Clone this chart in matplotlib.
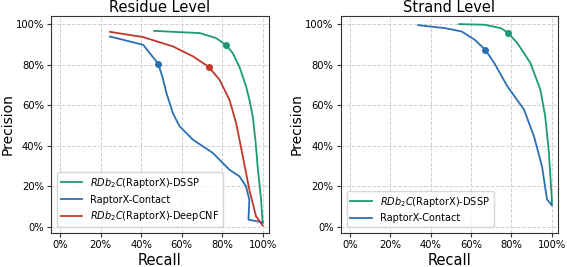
import matplotlib
matplotlib.use("Agg")
import matplotlib.pyplot as plt
from matplotlib.ticker import PercentFormatter

# Residue level
res_dssp_recall = [0.464, 0.60, 0.689, 0.77, 0.82, 0.852, 0.885, 0.918, 0.935, 0.951, 0.965, 0.975, 0.992, 1.0]
res_dssp_prec = [0.967, 0.960, 0.956, 0.931, 0.896, 0.857, 0.79, 0.693, 0.625, 0.545, 0.42, 0.30, 0.135, 0.02]
res_dssp_mark = (0.82, 0.896)

res_rx_recall = [0.246, 0.41, 0.484, 0.505, 0.525, 0.557, 0.59, 0.656, 0.754, 0.836, 0.885, 0.918, 0.934, 0.93, 1.0]
res_rx_prec = [0.939, 0.898, 0.805, 0.74, 0.66, 0.56, 0.496, 0.43, 0.365, 0.282, 0.25, 0.20, 0.135, 0.036, 0.023]
res_rx_mark = (0.484, 0.805)

res_cnf_recall = [0.246, 0.41, 0.557, 0.656, 0.733, 0.787, 0.836, 0.869, 0.902, 0.934, 0.967, 1.0]
res_cnf_prec = [0.962, 0.936, 0.89, 0.841, 0.79, 0.726, 0.627, 0.512, 0.348, 0.184, 0.053, 0.007]
res_cnf_mark = (0.733, 0.79)

# Strand level
str_dssp_recall = [0.541, 0.667, 0.748, 0.784, 0.829, 0.894, 0.943, 0.967, 0.984, 1.0, 1.0]
str_dssp_prec = [1.0, 0.997, 0.98, 0.956, 0.907, 0.808, 0.677, 0.546, 0.382, 0.136, 0.11]
str_dssp_mark = (0.784, 0.956)

str_rx_recall = [0.338, 0.472, 0.553, 0.618, 0.67, 0.715, 0.78, 0.862, 0.911, 0.951, 0.976, 1.0]
str_rx_prec = [0.995, 0.98, 0.964, 0.923, 0.874, 0.808, 0.693, 0.579, 0.448, 0.30, 0.136, 0.107]
str_rx_mark = (0.67, 0.874)

GREEN = '#1b9a78'
BLUE = '#2a6fb2'
RED = '#c0382b'

lab_dssp = r'$RDb_2C$(RaptorX)-DSSP'
lab_rx = 'RaptorX-Contact'
lab_cnf = r'$RDb_2C$(RaptorX)-DeepCNF'

fig = plt.figure(figsize=(5.67, 2.67), dpi=100)
ax1 = fig.add_axes([0.090, 0.127, 0.384, 0.813])
ax2 = fig.add_axes([0.601, 0.127, 0.383, 0.813])

def style(ax, title):
    ax.set_xlim(-0.045, 1.03)
    ax.set_ylim(-0.03, 1.04)
    ax.set_xticks([0, 0.2, 0.4, 0.6, 0.8, 1.0])
    ax.set_yticks([0, 0.2, 0.4, 0.6, 0.8, 1.0])
    ax.xaxis.set_major_formatter(PercentFormatter(1.0, decimals=0))
    ax.yaxis.set_major_formatter(PercentFormatter(1.0, decimals=0))
    ax.tick_params(labelsize=7.2, length=3, width=0.8, color='#333333', pad=2.2)
    ax.grid(True, linestyle='--', color='#d0d0d0', linewidth=0.7)
    ax.set_axisbelow(True)
    ax.set_title(title, fontsize=10.5, pad=3)
    ax.set_xlabel('Recall', fontsize=10.5, labelpad=2)
    ax.set_ylabel('Precision', fontsize=10, labelpad=1)
    for s in ax.spines.values():
        s.set_color('#333333')
        s.set_linewidth(0.8)

ax1.plot(res_dssp_recall, res_dssp_prec, color=GREEN, lw=1.3, label=lab_dssp)
ax1.plot(res_rx_recall, res_rx_prec, color=BLUE, lw=1.3, label=lab_rx)
ax1.plot(res_cnf_recall, res_cnf_prec, color=RED, lw=1.3, label=lab_cnf)
ax1.plot([res_dssp_mark[0]], [res_dssp_mark[1]], 'o', color=GREEN, ms=4)
ax1.plot([res_rx_mark[0]], [res_rx_mark[1]], 'o', color=BLUE, ms=4)
ax1.plot([res_cnf_mark[0]], [res_cnf_mark[1]], 'o', color=RED, ms=4)
style(ax1, 'Residue Level')
ax1.legend(loc='lower left', fontsize=7, handlelength=2.2, borderaxespad=0.6, labelspacing=0.5)

ax2.plot(str_dssp_recall, str_dssp_prec, color=GREEN, lw=1.3, label=lab_dssp)
ax2.plot(str_rx_recall, str_rx_prec, color=BLUE, lw=1.3, label=lab_rx)
ax2.plot([str_dssp_mark[0]], [str_dssp_mark[1]], 'o', color=GREEN, ms=4)
ax2.plot([str_rx_mark[0]], [str_rx_mark[1]], 'o', color=BLUE, ms=4)
style(ax2, 'Strand Level')
ax2.legend(loc='lower left', fontsize=7, handlelength=2.2, borderaxespad=0.6, labelspacing=0.5)

fig.savefig('out.png', dpi=100)
